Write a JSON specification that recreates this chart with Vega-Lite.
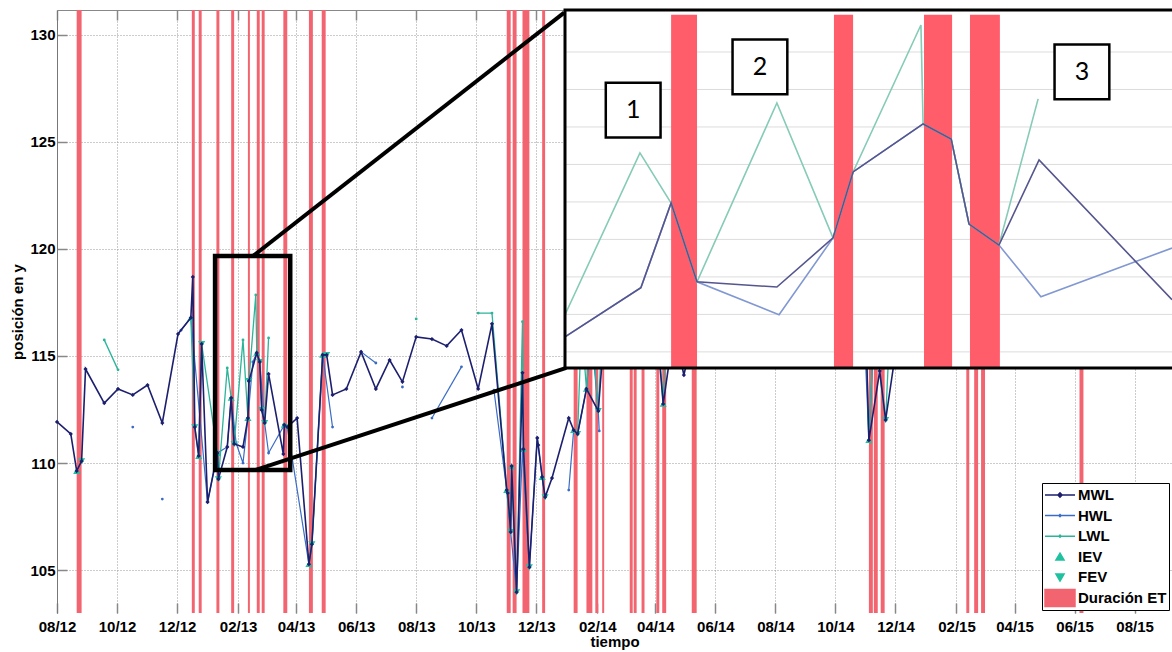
{
"$schema": "https://vega.github.io/schema/vega-lite/v6.json",
"width": 1115,
"height": 603,
"autosize": {"type": "none"},
"padding": {"left": 57, "top": 10, "right": 0, "bottom": 39},
"background": "white",
"config": {"view": {"stroke": null}, "font": "Liberation Sans"},
"datasets": {
"bandas": [
{"serie":"Duración ET","inicio":"2012-08-21","fin":"2012-08-26"},
{"serie":"Duración ET","inicio":"2012-12-16","fin":"2012-12-19"},
{"serie":"Duración ET","inicio":"2012-12-23","fin":"2012-12-26"},
{"serie":"Duración ET","inicio":"2013-01-10","fin":"2013-01-13"},
{"serie":"Duración ET","inicio":"2013-01-25","fin":"2013-01-28"},
{"serie":"Duración ET","inicio":"2013-02-11","fin":"2013-02-13"},
{"serie":"Duración ET","inicio":"2013-02-20","fin":"2013-02-23"},
{"serie":"Duración ET","inicio":"2013-02-25","fin":"2013-02-28"},
{"serie":"Duración ET","inicio":"2013-03-19","fin":"2013-03-23"},
{"serie":"Duración ET","inicio":"2013-04-14","fin":"2013-04-18"},
{"serie":"Duración ET","inicio":"2013-04-27","fin":"2013-05-01"},
{"serie":"Duración ET","inicio":"2013-11-01","fin":"2013-11-05"},
{"serie":"Duración ET","inicio":"2013-11-07","fin":"2013-11-11"},
{"serie":"Duración ET","inicio":"2013-11-17","fin":"2013-11-24"},
{"serie":"Duración ET","inicio":"2013-12-07","fin":"2013-12-10"},
{"serie":"Duración ET","inicio":"2014-01-08","fin":"2014-01-12"},
{"serie":"Duración ET","inicio":"2014-01-21","fin":"2014-01-27"},
{"serie":"Duración ET","inicio":"2014-01-30","fin":"2014-02-02"},
{"serie":"Duración ET","inicio":"2014-02-06","fin":"2014-02-08"},
{"serie":"Duración ET","inicio":"2014-03-06","fin":"2014-03-09"},
{"serie":"Duración ET","inicio":"2014-03-10","fin":"2014-03-13"},
{"serie":"Duración ET","inicio":"2014-03-18","fin":"2014-03-21"},
{"serie":"Duración ET","inicio":"2014-04-02","fin":"2014-04-05"},
{"serie":"Duración ET","inicio":"2014-04-08","fin":"2014-04-12"},
{"serie":"Duración ET","inicio":"2014-05-08","fin":"2014-05-13"},
{"serie":"Duración ET","inicio":"2014-11-04","fin":"2014-11-08"},
{"serie":"Duración ET","inicio":"2014-11-09","fin":"2014-11-13"},
{"serie":"Duración ET","inicio":"2014-11-16","fin":"2014-11-20"},
{"serie":"Duración ET","inicio":"2015-02-11","fin":"2015-02-14"},
{"serie":"Duración ET","inicio":"2015-02-19","fin":"2015-02-23"},
{"serie":"Duración ET","inicio":"2015-02-26","fin":"2015-03-02"},
{"serie":"Duración ET","inicio":"2015-06-06","fin":"2015-06-10"}
],
"mwl": [
{"serie":"MWL","tramo":1,"fecha":"2012-08-01","valor":111.92},
{"serie":"MWL","tramo":1,"fecha":"2012-08-15","valor":111.36},
{"serie":"MWL","tramo":1,"fecha":"2012-08-21","valor":109.63},
{"serie":"MWL","tramo":1,"fecha":"2012-08-26","valor":110.09},
{"serie":"MWL","tramo":1,"fecha":"2012-08-30","valor":114.39},
{"serie":"MWL","tramo":1,"fecha":"2012-09-18","valor":112.8},
{"serie":"MWL","tramo":1,"fecha":"2012-10-02","valor":113.46},
{"serie":"MWL","tramo":1,"fecha":"2012-10-17","valor":113.18},
{"serie":"MWL","tramo":1,"fecha":"2012-11-01","valor":113.64},
{"serie":"MWL","tramo":1,"fecha":"2012-11-16","valor":111.87},
{"serie":"MWL","tramo":1,"fecha":"2012-12-02","valor":116.03},
{"serie":"MWL","tramo":1,"fecha":"2012-12-15","valor":116.78},
{"serie":"MWL","tramo":1,"fecha":"2012-12-17","valor":118.69},
{"serie":"MWL","tramo":1,"fecha":"2012-12-19","valor":111.68},
{"serie":"MWL","tramo":1,"fecha":"2012-12-23","valor":110.33},
{"serie":"MWL","tramo":1,"fecha":"2012-12-26","valor":115.56},
{"serie":"MWL","tramo":1,"fecha":"2013-01-01","valor":108.18},
{"serie":"MWL","tramo":1,"fecha":"2013-01-11","valor":110.47},
{"serie":"MWL","tramo":1,"fecha":"2013-01-12","valor":109.25},
{"serie":"MWL","tramo":1,"fecha":"2013-01-21","valor":110.75},
{"serie":"MWL","tramo":1,"fecha":"2013-01-25","valor":113.04},
{"serie":"MWL","tramo":1,"fecha":"2013-01-28","valor":110.89},
{"serie":"MWL","tramo":1,"fecha":"2013-02-06","valor":110.75},
{"serie":"MWL","tramo":1,"fecha":"2013-02-11","valor":112.1},
{"serie":"MWL","tramo":1,"fecha":"2013-02-12","valor":113.83},
{"serie":"MWL","tramo":1,"fecha":"2013-02-20","valor":115.14},
{"serie":"MWL","tramo":1,"fecha":"2013-02-23","valor":114.72},
{"serie":"MWL","tramo":1,"fecha":"2013-02-25","valor":112.48},
{"serie":"MWL","tramo":1,"fecha":"2013-02-28","valor":111.87},
{"serie":"MWL","tramo":1,"fecha":"2013-03-04","valor":114.16},
{"serie":"MWL","tramo":1,"fecha":"2013-03-19","valor":110.42},
{"serie":"MWL","tramo":1,"fecha":"2013-03-20","valor":111.78},
{"serie":"MWL","tramo":1,"fecha":"2013-03-23","valor":111.68},
{"serie":"MWL","tramo":1,"fecha":"2013-04-02","valor":112.1},
{"serie":"MWL","tramo":1,"fecha":"2013-04-14","valor":105.28},
{"serie":"MWL","tramo":1,"fecha":"2013-04-17","valor":106.21},
{"serie":"MWL","tramo":1,"fecha":"2013-04-28","valor":115.05},
{"serie":"MWL","tramo":1,"fecha":"2013-05-02","valor":115.05},
{"serie":"MWL","tramo":1,"fecha":"2013-05-08","valor":113.18},
{"serie":"MWL","tramo":1,"fecha":"2013-05-22","valor":113.46},
{"serie":"MWL","tramo":1,"fecha":"2013-06-06","valor":115.19},
{"serie":"MWL","tramo":1,"fecha":"2013-06-21","valor":113.46},
{"serie":"MWL","tramo":1,"fecha":"2013-07-05","valor":114.81},
{"serie":"MWL","tramo":1,"fecha":"2013-07-18","valor":113.79},
{"serie":"MWL","tramo":1,"fecha":"2013-08-01","valor":115.89},
{"serie":"MWL","tramo":1,"fecha":"2013-08-17","valor":115.79},
{"serie":"MWL","tramo":1,"fecha":"2013-09-01","valor":115.47},
{"serie":"MWL","tramo":1,"fecha":"2013-09-16","valor":116.21},
{"serie":"MWL","tramo":1,"fecha":"2013-10-03","valor":113.46},
{"serie":"MWL","tramo":1,"fecha":"2013-10-17","valor":116.5},
{"serie":"MWL","tramo":1,"fecha":"2013-11-01","valor":108.74},
{"serie":"MWL","tramo":1,"fecha":"2013-11-02","valor":108.6},
{"serie":"MWL","tramo":1,"fecha":"2013-11-05","valor":106.78},
{"serie":"MWL","tramo":1,"fecha":"2013-11-06","valor":109.86},
{"serie":"MWL","tramo":1,"fecha":"2013-11-11","valor":103.97},
{"serie":"MWL","tramo":1,"fecha":"2013-11-17","valor":114.21},
{"serie":"MWL","tramo":1,"fecha":"2013-11-18","valor":110.65},
{"serie":"MWL","tramo":1,"fecha":"2013-11-24","valor":105.14},
{"serie":"MWL","tramo":1,"fecha":"2013-12-02","valor":111.17},
{"serie":"MWL","tramo":1,"fecha":"2013-12-03","valor":110.84},
{"serie":"MWL","tramo":1,"fecha":"2013-12-07","valor":109.35},
{"serie":"MWL","tramo":1,"fecha":"2013-12-10","valor":108.41},
{"serie":"MWL","tramo":1,"fecha":"2013-12-17","valor":109.3},
{"serie":"MWL","tramo":1,"fecha":"2014-01-03","valor":112.1},
{"serie":"MWL","tramo":1,"fecha":"2014-01-08","valor":111.54},
{"serie":"MWL","tramo":1,"fecha":"2014-01-12","valor":111.36},
{"serie":"MWL","tramo":1,"fecha":"2014-01-21","valor":113.46},
{"serie":"MWL","tramo":1,"fecha":"2014-02-02","valor":112.43},
{"serie":"MWL","tramo":1,"fecha":"2014-02-08","valor":116.0},
{"serie":"MWL","tramo":1,"fecha":"2014-03-15","valor":116.6},
{"serie":"MWL","tramo":1,"fecha":"2014-04-03","valor":116.0},
{"serie":"MWL","tramo":1,"fecha":"2014-04-09","valor":112.76},
{"serie":"MWL","tramo":1,"fecha":"2014-04-20","valor":116.3},
{"serie":"MWL","tramo":1,"fecha":"2014-04-30","valor":114.11},
{"serie":"MWL","tramo":1,"fecha":"2014-05-12","valor":116.5},
{"serie":"MWL","tramo":1,"fecha":"2014-06-20","valor":117.0},
{"serie":"MWL","tramo":1,"fecha":"2014-08-01","valor":117.3},
{"serie":"MWL","tramo":1,"fecha":"2014-09-10","valor":116.8},
{"serie":"MWL","tramo":1,"fecha":"2014-10-20","valor":116.6},
{"serie":"MWL","tramo":1,"fecha":"2014-11-01","valor":116.2},
{"serie":"MWL","tramo":1,"fecha":"2014-11-04","valor":111.07},
{"serie":"MWL","tramo":1,"fecha":"2014-11-15","valor":114.3},
{"serie":"MWL","tramo":1,"fecha":"2014-11-21","valor":112.01},
{"serie":"MWL","tramo":1,"fecha":"2014-12-05","valor":116.4},
{"serie":"MWL","tramo":1,"fecha":"2015-01-20","valor":117.2},
{"serie":"MWL","tramo":1,"fecha":"2015-03-01","valor":116.8},
{"serie":"MWL","tramo":1,"fecha":"2015-04-15","valor":117.3},
{"serie":"MWL","tramo":1,"fecha":"2015-06-01","valor":117.0},
{"serie":"MWL","tramo":1,"fecha":"2015-07-20","valor":117.4},
{"serie":"MWL","tramo":1,"fecha":"2015-09-08","valor":117.0}
],
"hwl": [
{"serie":"HWL","tramo":1,"fecha":"2012-10-17","valor":111.68},
{"serie":"HWL","tramo":2,"fecha":"2012-11-16","valor":108.32},
{"serie":"HWL","tramo":3,"fecha":"2012-12-05","valor":116.2},
{"serie":"HWL","tramo":3,"fecha":"2012-12-15","valor":116.78},
{"serie":"HWL","tramo":3,"fecha":"2013-01-01","valor":108.18},
{"serie":"HWL","tramo":3,"fecha":"2013-01-11","valor":110.47},
{"serie":"HWL","tramo":3,"fecha":"2013-01-21","valor":110.75},
{"serie":"HWL","tramo":3,"fecha":"2013-01-25","valor":113.04},
{"serie":"HWL","tramo":3,"fecha":"2013-01-30","valor":110.93},
{"serie":"HWL","tramo":3,"fecha":"2013-02-06","valor":110.0},
{"serie":"HWL","tramo":3,"fecha":"2013-02-11","valor":112.1},
{"serie":"HWL","tramo":3,"fecha":"2013-02-16","valor":114.72},
{"serie":"HWL","tramo":3,"fecha":"2013-02-20","valor":115.14},
{"serie":"HWL","tramo":3,"fecha":"2013-02-23","valor":114.72},
{"serie":"HWL","tramo":3,"fecha":"2013-02-28","valor":111.87},
{"serie":"HWL","tramo":3,"fecha":"2013-03-04","valor":110.47},
{"serie":"HWL","tramo":3,"fecha":"2013-03-20","valor":111.78},
{"serie":"HWL","tramo":3,"fecha":"2013-03-23","valor":111.68},
{"serie":"HWL","tramo":3,"fecha":"2013-04-14","valor":105.28},
{"serie":"HWL","tramo":3,"fecha":"2013-04-17","valor":106.21},
{"serie":"HWL","tramo":3,"fecha":"2013-04-28","valor":115.05},
{"serie":"HWL","tramo":3,"fecha":"2013-05-08","valor":111.68},
{"serie":"HWL","tramo":4,"fecha":"2013-06-06","valor":115.19},
{"serie":"HWL","tramo":4,"fecha":"2013-06-21","valor":114.67},
{"serie":"HWL","tramo":5,"fecha":"2013-07-18","valor":113.55},
{"serie":"HWL","tramo":6,"fecha":"2013-08-17","valor":112.1},
{"serie":"HWL","tramo":6,"fecha":"2013-09-16","valor":114.49},
{"serie":"HWL","tramo":7,"fecha":"2013-10-19","valor":113.4},
{"serie":"HWL","tramo":7,"fecha":"2013-11-01","valor":108.74},
{"serie":"HWL","tramo":7,"fecha":"2013-11-05","valor":106.78},
{"serie":"HWL","tramo":7,"fecha":"2013-11-11","valor":103.97},
{"serie":"HWL","tramo":7,"fecha":"2013-11-17","valor":110.65},
{"serie":"HWL","tramo":7,"fecha":"2013-11-24","valor":105.14},
{"serie":"HWL","tramo":7,"fecha":"2013-12-02","valor":111.17},
{"serie":"HWL","tramo":7,"fecha":"2013-12-07","valor":109.35},
{"serie":"HWL","tramo":7,"fecha":"2013-12-10","valor":108.41},
{"serie":"HWL","tramo":8,"fecha":"2014-01-03","valor":108.74},
{"serie":"HWL","tramo":8,"fecha":"2014-01-08","valor":111.54},
{"serie":"HWL","tramo":8,"fecha":"2014-01-12","valor":111.36},
{"serie":"HWL","tramo":8,"fecha":"2014-01-21","valor":113.46},
{"serie":"HWL","tramo":8,"fecha":"2014-01-26","valor":116.0},
{"serie":"HWL","tramo":8,"fecha":"2014-02-02","valor":112.43},
{"serie":"HWL","tramo":8,"fecha":"2014-02-03","valor":111.5},
{"serie":"HWL","tramo":9,"fecha":"2014-10-30","valor":116.5},
{"serie":"HWL","tramo":9,"fecha":"2014-11-04","valor":111.07},
{"serie":"HWL","tramo":9,"fecha":"2014-11-09","valor":116.0}
],
"lwl": [
{"serie":"LWL","tramo":1,"fecha":"2012-09-18","valor":115.75},
{"serie":"LWL","tramo":1,"fecha":"2012-10-02","valor":114.35},
{"serie":"LWL","tramo":2,"fecha":"2012-12-15","valor":116.78},
{"serie":"LWL","tramo":2,"fecha":"2012-12-19","valor":111.68},
{"serie":"LWL","tramo":2,"fecha":"2012-12-23","valor":110.33},
{"serie":"LWL","tramo":2,"fecha":"2012-12-26","valor":115.56},
{"serie":"LWL","tramo":2,"fecha":"2013-01-11","valor":110.47},
{"serie":"LWL","tramo":2,"fecha":"2013-01-12","valor":109.25},
{"serie":"LWL","tramo":2,"fecha":"2013-01-21","valor":114.44},
{"serie":"LWL","tramo":2,"fecha":"2013-01-25","valor":113.04},
{"serie":"LWL","tramo":2,"fecha":"2013-01-28","valor":110.89},
{"serie":"LWL","tramo":2,"fecha":"2013-02-06","valor":115.75},
{"serie":"LWL","tramo":2,"fecha":"2013-02-11","valor":112.1},
{"serie":"LWL","tramo":2,"fecha":"2013-02-12","valor":113.83},
{"serie":"LWL","tramo":2,"fecha":"2013-02-19","valor":117.85},
{"serie":"LWL","tramo":2,"fecha":"2013-02-20","valor":115.14},
{"serie":"LWL","tramo":2,"fecha":"2013-02-23","valor":114.72},
{"serie":"LWL","tramo":2,"fecha":"2013-02-25","valor":112.48},
{"serie":"LWL","tramo":2,"fecha":"2013-02-28","valor":111.87},
{"serie":"LWL","tramo":2,"fecha":"2013-03-04","valor":115.84},
{"serie":"LWL","tramo":3,"fecha":"2013-03-19","valor":111.78},
{"serie":"LWL","tramo":3,"fecha":"2013-03-23","valor":111.68},
{"serie":"LWL","tramo":4,"fecha":"2013-04-14","valor":105.28},
{"serie":"LWL","tramo":4,"fecha":"2013-04-17","valor":106.21},
{"serie":"LWL","tramo":4,"fecha":"2013-04-28","valor":115.05},
{"serie":"LWL","tramo":4,"fecha":"2013-05-02","valor":115.05},
{"serie":"LWL","tramo":5,"fecha":"2013-08-01","valor":116.73},
{"serie":"LWL","tramo":6,"fecha":"2013-10-03","valor":117.0},
{"serie":"LWL","tramo":6,"fecha":"2013-10-17","valor":117.0},
{"serie":"LWL","tramo":6,"fecha":"2013-11-01","valor":108.74},
{"serie":"LWL","tramo":6,"fecha":"2013-11-05","valor":106.78},
{"serie":"LWL","tramo":6,"fecha":"2013-11-06","valor":109.86},
{"serie":"LWL","tramo":6,"fecha":"2013-11-11","valor":103.97},
{"serie":"LWL","tramo":6,"fecha":"2013-11-17","valor":116.6},
{"serie":"LWL","tramo":6,"fecha":"2013-11-18","valor":110.65},
{"serie":"LWL","tramo":6,"fecha":"2013-11-24","valor":105.14},
{"serie":"LWL","tramo":7,"fecha":"2013-12-07","valor":109.35},
{"serie":"LWL","tramo":7,"fecha":"2013-12-10","valor":108.41},
{"serie":"LWL","tramo":8,"fecha":"2014-01-08","valor":111.54},
{"serie":"LWL","tramo":8,"fecha":"2014-01-12","valor":111.36},
{"serie":"LWL","tramo":8,"fecha":"2014-01-16","valor":116.5},
{"serie":"LWL","tramo":8,"fecha":"2014-01-21","valor":113.46},
{"serie":"LWL","tramo":8,"fecha":"2014-01-26","valor":116.6},
{"serie":"LWL","tramo":8,"fecha":"2014-02-02","valor":112.43},
{"serie":"LWL","tramo":8,"fecha":"2014-02-06","valor":116.3},
{"serie":"LWL","tramo":9,"fecha":"2014-04-03","valor":116.4},
{"serie":"LWL","tramo":9,"fecha":"2014-04-09","valor":112.76},
{"serie":"LWL","tramo":9,"fecha":"2014-04-12","valor":116.4},
{"serie":"LWL","tramo":10,"fecha":"2014-11-01","valor":116.6},
{"serie":"LWL","tramo":10,"fecha":"2014-11-04","valor":111.07},
{"serie":"LWL","tramo":10,"fecha":"2014-11-09","valor":116.3},
{"serie":"LWL","tramo":10,"fecha":"2014-11-21","valor":112.01},
{"serie":"LWL","tramo":10,"fecha":"2014-11-25","valor":116.0}
],
"eventos": [
{"serie":"IEV","fecha":"2012-08-21","valor":109.63},
{"serie":"IEV","fecha":"2012-12-15","valor":116.78},
{"serie":"IEV","fecha":"2012-12-23","valor":110.33},
{"serie":"IEV","fecha":"2013-01-11","valor":110.47},
{"serie":"IEV","fecha":"2013-01-25","valor":113.04},
{"serie":"IEV","fecha":"2013-02-11","valor":112.1},
{"serie":"IEV","fecha":"2013-02-20","valor":115.14},
{"serie":"IEV","fecha":"2013-03-20","valor":111.78},
{"serie":"IEV","fecha":"2013-04-14","valor":105.28},
{"serie":"IEV","fecha":"2013-04-28","valor":115.05},
{"serie":"IEV","fecha":"2013-11-01","valor":108.74},
{"serie":"IEV","fecha":"2013-11-06","valor":109.86},
{"serie":"IEV","fecha":"2013-11-18","valor":110.65},
{"serie":"IEV","fecha":"2013-12-07","valor":109.35},
{"serie":"IEV","fecha":"2014-01-08","valor":111.54},
{"serie":"IEV","fecha":"2014-01-21","valor":113.46},
{"serie":"IEV","fecha":"2014-04-09","valor":112.76},
{"serie":"IEV","fecha":"2014-11-04","valor":111.07},
{"serie":"FEV","fecha":"2012-08-26","valor":110.09},
{"serie":"FEV","fecha":"2012-12-19","valor":111.68},
{"serie":"FEV","fecha":"2012-12-26","valor":115.56},
{"serie":"FEV","fecha":"2013-01-12","valor":109.25},
{"serie":"FEV","fecha":"2013-01-28","valor":110.89},
{"serie":"FEV","fecha":"2013-02-12","valor":113.83},
{"serie":"FEV","fecha":"2013-02-23","valor":114.72},
{"serie":"FEV","fecha":"2013-02-25","valor":112.48},
{"serie":"FEV","fecha":"2013-02-28","valor":111.87},
{"serie":"FEV","fecha":"2013-03-23","valor":111.68},
{"serie":"FEV","fecha":"2013-04-17","valor":106.21},
{"serie":"FEV","fecha":"2013-05-02","valor":115.05},
{"serie":"FEV","fecha":"2013-11-05","valor":106.78},
{"serie":"FEV","fecha":"2013-11-11","valor":103.97},
{"serie":"FEV","fecha":"2013-11-24","valor":105.14},
{"serie":"FEV","fecha":"2013-12-10","valor":108.41},
{"serie":"FEV","fecha":"2014-01-12","valor":111.36},
{"serie":"FEV","fecha":"2014-02-02","valor":112.43},
{"serie":"FEV","fecha":"2014-11-21","valor":112.01}
],
"caja": [
{"inicio":"2013-01-08T15:00","fin":"2013-03-26T00:00","vmin":109.67,"vmax":119.67}
],
"conectores": [
{"f1":"2013-02-16T07:00","f2":"2013-12-29T10:00","v1":119.67,"v2":131.03},
{"f1":"2013-02-18T07:00","f2":"2013-12-31T12:00","v1":109.67,"v2":114.44}
],
"marco": [
{"inicio":"2013-01-06T00:00","fin":"2013-03-31T00:00","vmin":109.57,"vmax":119.12}
],
"rejilla": [
{"valor":110},{"valor":111},{"valor":112},{"valor":113},{"valor":114},{"valor":115},{"valor":116},{"valor":117},{"valor":118}
],
"det_bandas": [
{"inicio":"2013-01-20T08:00","fin":"2013-01-23T20:00"},
{"inicio":"2013-02-11T08:00","fin":"2013-02-13T22:00"},
{"inicio":"2013-02-23T12:00","fin":"2013-02-27T07:00"},
{"inicio":"2013-03-01T17:00","fin":"2013-03-05T18:00"}
],
"detalle": [
{"serie":"HWL","fecha":"2013-01-06T00:00","valor":110.4},
{"serie":"HWL","fecha":"2013-01-16T06:00","valor":111.71},
{"serie":"HWL","fecha":"2013-01-20T08:00","valor":113.97},
{"serie":"HWL","fecha":"2013-01-23T20:00","valor":111.87},
{"serie":"HWL","fecha":"2013-02-03T22:00","valor":110.99},
{"serie":"HWL","fecha":"2013-02-11T05:00","valor":113.04},
{"serie":"HWL","fecha":"2013-02-13T22:00","valor":114.8},
{"serie":"HWL","fecha":"2013-02-23T09:00","valor":116.08},
{"serie":"HWL","fecha":"2013-02-27T04:00","valor":115.68},
{"serie":"HWL","fecha":"2013-03-01T14:00","valor":113.41},
{"serie":"HWL","fecha":"2013-03-05T15:00","valor":112.85},
{"serie":"HWL","fecha":"2013-03-11T07:00","valor":111.47},
{"serie":"HWL","fecha":"2013-03-29T00:00","valor":112.77},
{"serie":"LWL","fecha":"2013-01-06T00:00","valor":110.99},
{"serie":"LWL","fecha":"2013-01-16T03:00","valor":115.31},
{"serie":"LWL","fecha":"2013-01-20T08:00","valor":113.97},
{"serie":"LWL","fecha":"2013-01-23T20:00","valor":111.87},
{"serie":"LWL","fecha":"2013-02-03T15:00","valor":116.64},
{"serie":"LWL","fecha":"2013-02-11T05:00","valor":113.04},
{"serie":"LWL","fecha":"2013-02-13T22:00","valor":114.8},
{"serie":"LWL","fecha":"2013-02-23T02:00","valor":118.72},
{"serie":"LWL","fecha":"2013-02-23T09:00","valor":116.08},
{"serie":"LWL","fecha":"2013-02-27T04:00","valor":115.68},
{"serie":"LWL","fecha":"2013-03-01T14:00","valor":113.41},
{"serie":"LWL","fecha":"2013-03-05T15:00","valor":112.85},
{"serie":"LWL","fecha":"2013-03-10T22:00","valor":116.75},
{"serie":"MWL","fecha":"2013-01-06T00:00","valor":110.4},
{"serie":"MWL","fecha":"2013-01-16T06:00","valor":111.71},
{"serie":"MWL","fecha":"2013-01-20T08:00","valor":113.97},
{"serie":"MWL","fecha":"2013-01-23T20:00","valor":111.87},
{"serie":"MWL","fecha":"2013-02-03T15:00","valor":111.73},
{"serie":"MWL","fecha":"2013-02-11T05:00","valor":113.04},
{"serie":"MWL","fecha":"2013-02-13T22:00","valor":114.8},
{"serie":"MWL","fecha":"2013-02-23T09:00","valor":116.08},
{"serie":"MWL","fecha":"2013-02-27T04:00","valor":115.68},
{"serie":"MWL","fecha":"2013-03-01T14:00","valor":113.41},
{"serie":"MWL","fecha":"2013-03-05T15:00","valor":112.85},
{"serie":"MWL","fecha":"2013-03-11T01:00","valor":115.12},
{"serie":"MWL","fecha":"2013-03-29T00:00","valor":111.39}
],
"etiquetas": [
{"etiqueta":"1","fecha":"2013-01-15T05:00","valor":116.45},
{"etiqueta":"2","fecha":"2013-02-01T08:00","valor":117.6},
{"etiqueta":"3","fecha":"2013-03-16T20:00","valor":117.47}
]
},
"resolve": {"scale": {"x": "independent", "y": "independent"}},
"layer": [
{
"resolve": {"axis": {"x": "independent", "y": "independent"}},
"layer": [
{
"data": {"name": "bandas"},
"mark": {"type": "rect", "opacity": 1},
"encoding": {
"x": {"field": "inicio", "type": "temporal",
 "scale": {"domain": [{"year": 2012, "month": 8, "date": 1}, {"year": 2015, "month": 9, "date": 8}]},
 "axis": {"orient": "bottom",
  "values": [{"year":2012,"month":8,"date":1},{"year":2012,"month":10,"date":1},{"year":2012,"month":12,"date":1},{"year":2013,"month":2,"date":1},{"year":2013,"month":4,"date":1},{"year":2013,"month":6,"date":1},{"year":2013,"month":8,"date":1},{"year":2013,"month":10,"date":1},{"year":2013,"month":12,"date":1},{"year":2014,"month":2,"date":1},{"year":2014,"month":4,"date":1},{"year":2014,"month":6,"date":1},{"year":2014,"month":8,"date":1},{"year":2014,"month":10,"date":1},{"year":2014,"month":12,"date":1},{"year":2015,"month":2,"date":1},{"year":2015,"month":4,"date":1},{"year":2015,"month":6,"date":1},{"year":2015,"month":8,"date":1}],
  "format": "%m/%y", "labelFontSize": 15, "labelFontWeight": "bold", "labelColor": "black",
  "labelFlush": false, "labelOverlap": false, "labelPadding": 16,
  "tickSize": -10, "tickColor": "#888888", "tickWidth": 1.5,
  "grid": true, "gridColor": "#999999", "gridDash": [1, 2], "gridWidth": 1,
  "domain": false,
  "title": "tiempo", "titleFontSize": 15, "titleFontWeight": "bold", "titleColor": "black", "titlePadding": 0}},
"x2": {"field": "fin"},
"color": {"field": "serie", "type": "nominal",
 "scale": {"domain": ["MWL", "HWL", "LWL", "IEV", "FEV", "Duración ET"],
  "range": ["#1c1f6e", "#3a6cc6", "#2bb49a", "#1fc19f", "#1fc19f", "#f2646f"]},
 "legend": {"orient": "none", "legendX": 985, "legendY": 473, "title": null, "direction": "vertical",
  "padding": 2, "strokeColor": "black", "fillColor": "white", "cornerRadius": 0,
  "labelFont": "Liberation Sans", "labelFontSize": 15, "labelFontWeight": "bold", "labelColor": "black",
  "labelOffset": 2, "rowPadding": 0.6, "clipHeight": 20, "symbolSize": 900, "symbolStrokeWidth": 1.5, "labelLimit": 300,
  "encode": {"symbols": {"update": {"fill": {"scale": "color", "field": "value"}, "stroke": {"scale": "color", "field": "value"}, "strokeWidth": {"value": 1.5}, "opacity": {"value": 1}}}}}}
}
},
{
"data": {"name": "hwl"},
"mark": {"type": "line", "strokeWidth": 1.2, "point": {"filled": true, "size": 8}},
"encoding": {
"x": {"field": "fecha", "type": "temporal", "axis": null},
"y": {"field": "valor", "type": "quantitative", "axis": null},
"color": {"field": "serie", "type": "nominal"},
"detail": {"field": "tramo", "type": "nominal"}
}
},
{
"data": {"name": "lwl"},
"mark": {"type": "line", "strokeWidth": 1.3, "point": {"filled": true, "size": 8}},
"encoding": {
"x": {"field": "fecha", "type": "temporal", "axis": null},
"y": {"field": "valor", "type": "quantitative", "axis": null},
"color": {"field": "serie", "type": "nominal"},
"detail": {"field": "tramo", "type": "nominal"}
}
},
{
"data": {"name": "eventos"},
"mark": {"type": "point", "filled": true, "size": 700, "opacity": 1},
"encoding": {
"x": {"field": "fecha", "type": "temporal", "axis": null},
"y": {"field": "valor", "type": "quantitative",
 "scale": {"domain": [103, 131.15], "nice": false, "zero": false},
 "axis": {"orient": "left", "values": [105, 110, 115, 120, 125, 130],
  "labelFontSize": 15, "labelFontWeight": "bold", "labelColor": "black", "labelPadding": 12,
  "tickSize": -10, "tickColor": "#888888", "tickWidth": 1.5,
  "grid": true, "gridColor": "#999999", "gridDash": [1, 2], "gridWidth": 1,
  "domain": true, "domainColor": "#777777", "domainWidth": 1,
  "title": "posición en y", "titleFontSize": 15, "titleFontWeight": "bold", "titleColor": "black", "titlePadding": 4}},
"color": {"field": "serie", "type": "nominal"},
"shape": {"field": "serie", "type": "nominal",
 "scale": {"domain": ["MWL", "HWL", "LWL", "IEV", "FEV", "Duración ET"],
  "range": ["M-1,0H1M-0.14,0L0,-0.14L0.14,0L0,0.14Z", "M-1,0H1M-0.07,0L0,-0.07L0.07,0L0,0.07Z", "M-1,0H1M-0.07,0L0,-0.07L0.07,0L0,0.07Z", "M0,-0.24L0.27,0.22L-0.27,0.22Z", "M0,0.24L0.27,-0.22L-0.27,-0.22Z", "M-1,-0.56H1V0.56H-1Z"]}}
}
},
{
"data": {"name": "mwl"},
"mark": {"type": "line", "strokeWidth": 1.6, "point": {"filled": true, "size": 18, "shape": "diamond"}},
"encoding": {
"x": {"field": "fecha", "type": "temporal",
 "axis": {"orient": "top",
  "values": [{"year":2012,"month":8,"date":1},{"year":2012,"month":10,"date":1},{"year":2012,"month":12,"date":1},{"year":2013,"month":2,"date":1},{"year":2013,"month":4,"date":1},{"year":2013,"month":6,"date":1},{"year":2013,"month":8,"date":1},{"year":2013,"month":10,"date":1},{"year":2013,"month":12,"date":1},{"year":2014,"month":2,"date":1},{"year":2014,"month":4,"date":1},{"year":2014,"month":6,"date":1},{"year":2014,"month":8,"date":1},{"year":2014,"month":10,"date":1},{"year":2014,"month":12,"date":1},{"year":2015,"month":2,"date":1},{"year":2015,"month":4,"date":1},{"year":2015,"month":6,"date":1},{"year":2015,"month":8,"date":1}],
  "labels": false, "grid": false, "tickSize": -10, "tickColor": "#888888", "tickWidth": 1.5,
  "domain": true, "domainColor": "#888888", "domainWidth": 1, "title": null}},
"y": {"field": "valor", "type": "quantitative", "axis": null},
"color": {"field": "serie", "type": "nominal"},
"detail": {"field": "tramo", "type": "nominal"}
}
},
{
"data": {"name": "caja"},
"mark": {"type": "rect", "filled": false, "color": "black", "strokeWidth": 4.5},
"encoding": {
"x": {"field": "inicio", "type": "temporal", "axis": null},
"x2": {"field": "fin"},
"y": {"field": "vmin", "type": "quantitative", "axis": null},
"y2": {"field": "vmax"}
}
},
{
"data": {"name": "conectores"},
"mark": {"type": "rule", "color": "black", "strokeWidth": 4},
"encoding": {
"x": {"field": "f1", "type": "temporal", "axis": null},
"x2": {"field": "f2"},
"y": {"field": "v1", "type": "quantitative", "axis": null},
"y2": {"field": "v2"}
}
}
]
},
{
"layer": [
{
"data": {"name": "marco"},
"mark": {"type": "rect", "fill": "white"},
"encoding": {
"x": {"field": "inicio", "type": "temporal", "scale": {"domain": [{"year": 2013, "month": 1, "date": 6}, {"year": 2013, "month": 3, "date": 29}], "range": [508, 1115]}, "axis": null},
"x2": {"field": "fin"},
"y": {"field": "vmin", "type": "quantitative", "scale": {"domain": [109.57, 119.12], "range": [358, 0], "nice": false, "zero": false}, "axis": null},
"y2": {"field": "vmax"}
}
},
{
"data": {"name": "rejilla"},
"mark": {"type": "rule", "color": "#dcdcdc", "strokeWidth": 1},
"encoding": {
"x": {"datum": {"year": 2013, "month": 1, "date": 6}, "type": "temporal", "axis": null},
"x2": {"datum": {"year": 2013, "month": 3, "date": 31}},
"y": {"field": "valor", "type": "quantitative", "axis": null}
}
},
{
"data": {"name": "det_bandas"},
"mark": {"type": "rect", "color": "#ff5d6a", "opacity": 1},
"encoding": {
"x": {"field": "inicio", "type": "temporal", "axis": null},
"x2": {"field": "fin"},
"y": {"datum": 118.99, "type": "quantitative", "axis": null},
"y2": {"datum": 109.57}
}
},
{
"data": {"name": "detalle"},
"transform": [{"filter": "datum.serie === 'HWL'"}],
"mark": {"type": "line", "color": "#8298d2", "strokeWidth": 1.6},
"encoding": {
"x": {"field": "fecha", "type": "temporal", "axis": null},
"y": {"field": "valor", "type": "quantitative", "axis": null}
}
},
{
"data": {"name": "detalle"},
"transform": [{"filter": "datum.serie === 'LWL'"}],
"mark": {"type": "line", "color": "#85cbb7", "strokeWidth": 1.6},
"encoding": {
"x": {"field": "fecha", "type": "temporal", "axis": null},
"y": {"field": "valor", "type": "quantitative", "axis": null}
}
},
{
"data": {"name": "detalle"},
"transform": [{"filter": "datum.serie === 'MWL'"}],
"mark": {"type": "line", "color": "#55568e", "strokeWidth": 1.6},
"encoding": {
"x": {"field": "fecha", "type": "temporal", "axis": null},
"y": {"field": "valor", "type": "quantitative", "axis": null}
}
},
{
"data": {"name": "etiquetas"},
"mark": {"type": "point", "shape": "square", "size": 3000, "fill": "white", "stroke": "black", "strokeWidth": 2.5, "opacity": 1},
"encoding": {
"x": {"field": "fecha", "type": "temporal", "axis": null},
"y": {"field": "valor", "type": "quantitative", "axis": null}
}
},
{
"data": {"name": "etiquetas"},
"mark": {"type": "text", "font": "Lato", "fontSize": 25, "color": "black", "align": "center", "baseline": "middle"},
"encoding": {
"x": {"field": "fecha", "type": "temporal", "axis": null},
"y": {"field": "valor", "type": "quantitative", "axis": null},
"text": {"field": "etiqueta", "type": "nominal"}
}
},
{
"data": {"name": "marco"},
"mark": {"type": "rect", "filled": false, "color": "black", "strokeWidth": 3},
"encoding": {
"x": {"field": "inicio", "type": "temporal", "axis": null},
"x2": {"field": "fin"},
"y": {"field": "vmin", "type": "quantitative", "axis": null},
"y2": {"field": "vmax"}
}
}
]
}
]
}
